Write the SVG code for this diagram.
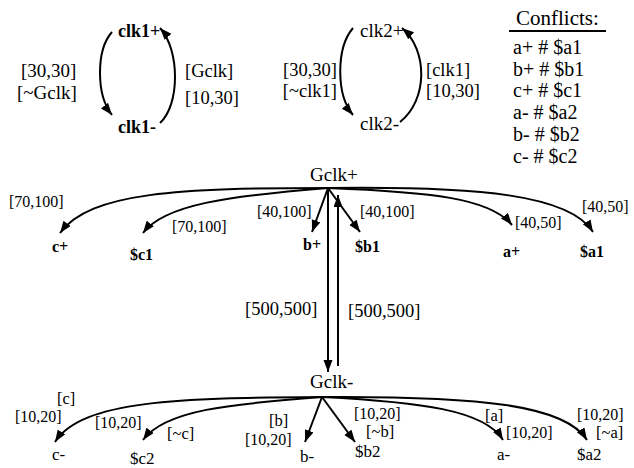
<svg xmlns="http://www.w3.org/2000/svg" width="634" height="468" viewBox="0 0 634 468">
<style>
text{font-family:"Liberation Serif","Times New Roman",serif;fill:#000}
.n{font-size:19px}
.nb{font-size:18px;font-weight:bold}
.ns{font-size:16px;font-weight:bold}
.nl{font-size:17px}
.l{font-size:18.5px}
.s{font-size:16px}
.t{font-size:16.5px}
.c{font-size:20px}
.e{fill:none;stroke:#000;stroke-width:2}
</style>
<defs>
<marker id="ah" markerUnits="userSpaceOnUse" markerWidth="13" markerHeight="10" refX="12" refY="4.5" orient="auto">
<path d="M0,0 L12,4.5 L0,9 z" fill="#000"/>
</marker>
</defs>
<rect width="634" height="468" fill="#fff"/>
<g id="connectors">
<path class="e" d="M112,32 C96,50 96,95 112,115" marker-end="url(#ah)"/>
<path class="e" d="M160,123 C180,105 180,50 160,28" marker-end="url(#ah)"/>
<path class="e" d="M353,28 C336,48 336,95 353,115" marker-end="url(#ah)"/>
<path class="e" d="M400,122 C428,100 428,50 402,28" marker-end="url(#ah)"/>
<path class="e" d="M328,188 C180,188 90,192 60,233" marker-end="url(#ah)"/>
<path class="e" d="M328,188 C230,196 165,204 143,233" marker-end="url(#ah)"/>
<path class="e" d="M328,188 L312,232" marker-end="url(#ah)"/>
<path class="e" d="M328,188 L360,232" marker-end="url(#ah)"/>
<path class="e" d="M328,188 C430,192 490,198 512,225" marker-end="url(#ah)"/>
<path class="e" d="M328,188 C480,186 570,195 593,232" marker-end="url(#ah)"/>
<path class="e" d="M328,188 L328,372" marker-end="url(#ah)"/>
<path class="e" d="M338,366 L338,195" marker-end="url(#ah)"/>
<path class="e" d="M322,397 C180,398 82,400 55,442" marker-end="url(#ah)"/>
<path class="e" d="M322,397 C230,404 165,410 143,440" marker-end="url(#ah)"/>
<path class="e" d="M322,397 L305,442" marker-end="url(#ah)"/>
<path class="e" d="M322,397 L355,442" marker-end="url(#ah)"/>
<path class="e" d="M322,397 C420,402 485,410 503,440" marker-end="url(#ah)"/>
<path class="e" d="M322,397 C480,396 565,405 587,440" marker-end="url(#ah)"/>
</g>
<g id="labels">
<text class="n" x="21" y="77">[30,30]</text>
<text class="n" x="17" y="99">[~Gclk]</text>
<text class="l" x="185" y="77">[Gclk]</text>
<text class="l" x="185" y="104">[10,30]</text>
<text class="l" x="337" y="76" text-anchor="end">[30,30]</text>
<text class="l" x="337" y="97" text-anchor="end">[~clk1]</text>
<text class="l" x="426" y="76">[clk1]</text>
<text class="l" x="426" y="97">[10,30]</text>
<text class="s" x="9" y="207">[70,100]</text>
<text class="s" x="172" y="232">[70,100]</text>
<text class="s" x="257" y="217">[40,100]</text>
<text class="s" x="360" y="217">[40,100]</text>
<text class="s" x="515" y="228">[40,50]</text>
<text class="s" x="582" y="212">[40,50]</text>
<text class="l" x="245" y="315">[500,500]</text>
<text class="l" x="348" y="317">[500,500]</text>
<text class="t" x="57" y="404">[c]</text>
<text class="s" x="15" y="422">[10,20]</text>
<text class="s" x="95" y="428">[10,20]</text>
<text class="t" x="167" y="439">[~c]</text>
<text class="t" x="269" y="426">[b]</text>
<text class="s" x="245" y="445">[10,20]</text>
<text class="s" x="354" y="419">[10,20]</text>
<text class="t" x="366" y="437">[~b]</text>
<text class="t" x="485" y="421">[a]</text>
<text class="s" x="506" y="438">[10,20]</text>
<text class="s" x="577" y="420">[10,20]</text>
<text class="t" x="596" y="438">[~a]</text>
</g>
<g id="node-clk1p"><text class="nb" x="118" y="37">clk1+</text></g>
<g id="node-clk1m"><text class="nb" x="118" y="133">clk1-</text></g>
<g id="node-clk2p"><text class="n" x="360" y="37">clk2+</text></g>
<g id="node-clk2m"><text class="n" x="360" y="130">clk2-</text></g>
<g id="node-gclkp"><text class="n" x="310" y="181">Gclk+</text></g>
<g id="node-gclkm"><text class="n" x="310" y="388">Gclk-</text></g>
<g id="node-cp"><text class="ns" x="52" y="252">c+</text></g>
<g id="node-sc1"><text class="ns" x="130" y="260">$c1</text></g>
<g id="node-bp"><text class="ns" x="303" y="250">b+</text></g>
<g id="node-sb1"><text class="ns" x="355" y="252">$b1</text></g>
<g id="node-ap"><text class="ns" x="503" y="257">a+</text></g>
<g id="node-sa1"><text class="ns" x="580" y="257">$a1</text></g>
<g id="node-cm"><text class="nl" x="52" y="460">c-</text></g>
<g id="node-sc2"><text class="nl" x="130" y="464">$c2</text></g>
<g id="node-bm"><text class="nl" x="300" y="462">b-</text></g>
<g id="node-sb2"><text class="nl" x="355" y="457">$b2</text></g>
<g id="node-am"><text class="nl" x="497" y="460">a-</text></g>
<g id="node-sa2"><text class="nl" x="577" y="460">$a2</text></g>
<g id="conflicts">
<text x="516" y="25" style="font-size:21px">Conflicts:</text>
<line x1="509" y1="31" x2="606" y2="31" stroke="#000" stroke-width="2"/>
<text class="c" x="513" y="54">a+ # $a1</text>
<text class="c" x="513" y="76">b+ # $b1</text>
<text class="c" x="513" y="97">c+ # $c1</text>
<text class="c" x="513" y="119">a- # $a2</text>
<text class="c" x="513" y="141">b- # $b2</text>
<text class="c" x="513" y="163">c- # $c2</text>
</g>
</svg>
